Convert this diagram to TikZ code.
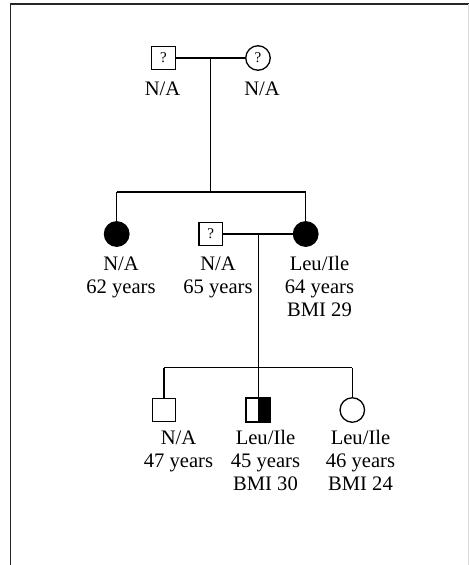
\documentclass[tikz,border=0pt]{standalone}
\usepackage{fontspec}
\setmainfont{Liberation Serif}
\newcommand{\pedlbl}[1]{{\fontsize{20.6}{23}\selectfont\renewcommand{\arraystretch}{1}\begin{tabular}[t]{@{}c@{}}#1\end{tabular}}}
\begin{document}
\begin{tikzpicture}[x=1pt,y=-1pt,
  male/.style={draw=black,line width=1.3pt,rectangle,minimum size=23.5pt,inner sep=0pt,fill=white,font=\fontsize{15}{15}\selectfont},
  female/.style={draw=black,line width=1.3pt,circle,minimum size=24.5pt,inner sep=0pt,fill=white,font=\fontsize{15}{15}\selectfont},
  affected/.style={fill=black},
  rel/.style={line width=1.3pt,black},
  lbl/.style={anchor=base,inner sep=0pt}]
\useasboundingbox (0,0) rectangle (469,565);
% frame
\draw[line width=1.3pt,black!85] (469,4) -- (10.8,4) -- (10.8,565);
\draw[line width=0.8pt,black!15] (468.3,4) -- (468.3,565);
% generation I
\node[male] (g1m) at (163.5,58) {?};
\node[female] (g1f) at (258,58) {?};
\coordinate (m1) at (210.7,58);
\coordinate (s1) at (210.7,192);
\coordinate (s1l) at (116.7,192);
\coordinate (s1r) at (305.7,192);
% generation II
\node[female,affected] (g2a) at (116.7,234) {};
\node[male] (g2s) at (210.7,234) {?};
\node[female,affected] (g2b) at (305.7,234) {};
\coordinate (m2) at (258.3,234);
\coordinate (s2) at (258.3,367.7);
\coordinate (s2l) at (164,367.7);
\coordinate (s2r) at (352.3,367.7);
% generation III
\node[male] (g3a) at (164,410) {};
\node[male] (g3b) at (258.3,410) {};
\node[female] (g3c) at (352.3,410) {};
\fill[black] (g3b.north) rectangle (g3b.south east);
\draw[line width=1.3pt] (g3b.north west) rectangle (g3b.south east);
% connectors
\draw[rel] (g1m.east) -- (g1f.west);
\draw[rel] (m1) -- (s1);
\draw[rel] (s1l) -- (s1r);
\draw[rel] (s1l) -- (g2a.north);
\draw[rel] (s1r) -- (g2b.north);
\draw[rel] (g2s.east) -- (g2b.west);
\draw[rel] (m2) -- (s2);
\draw[rel] (s2l) -- (s2r);
\draw[rel] (s2l) -- (g3a.north);
\draw[rel] (s2) -- (g3b.north);
\draw[rel] (s2r) -- (g3c.north);
% labels
\node[lbl] (l1m) at (162.5,95) {\pedlbl{N/A}};
\node[lbl] (l1f) at (262,95) {\pedlbl{N/A}};
\node[lbl] (l2a) at (121,270) {\pedlbl{N/A\\62 years}};
\node[lbl] (l2s) at (218,270) {\pedlbl{N/A\\65 years}};
\node[lbl] (l2b) at (319.5,270) {\pedlbl{Leu/Ile\\64 years\\BMI 29}};
\node[lbl] (l3a) at (178.5,444) {\pedlbl{N/A\\47 years}};
\node[lbl] (l3b) at (265.5,444) {\pedlbl{Leu/Ile\\45 years\\BMI 30}};
\node[lbl] (l3c) at (360.5,444) {\pedlbl{Leu/Ile\\46 years\\BMI 24}};
\end{tikzpicture}
\end{document}
